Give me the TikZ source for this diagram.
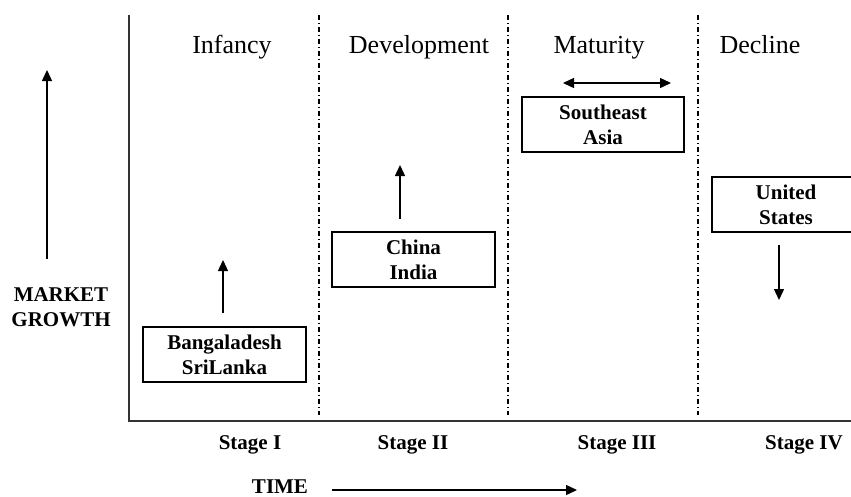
\documentclass[tikz,border=0pt]{standalone}
\usepackage{fontspec}
\setmainfont{Liberation Serif}
\usetikzlibrary{arrows.meta}
\tikzset{
  country/.style={draw, line width=1.4pt, minimum width=163pt, minimum height=55pt,
    align=center, font=\fontsize{21}{25}\selectfont\bfseries, inner sep=0pt},
  stagelbl/.style={font=\fontsize{21}{25}\selectfont\bfseries, inner sep=0pt, anchor=base},
  phase/.style={font=\fontsize{26}{30}\selectfont, inner sep=0pt, anchor=base},
  divider/.style={line width=1.4pt, dash pattern=on 5pt off 3pt on 1pt off 3pt},
  trend/.style={line width=1.4pt, -{Triangle[length=11pt,width=10pt]}},
  both/.style={line width=1.4pt, {Triangle[length=11pt,width=10pt]}-{Triangle[length=11pt,width=10pt]}},
}
\begin{document}
\begin{tikzpicture}[x=1pt,y=1pt]
		\useasboundingbox (0,0) rectangle (851,-496);
		% axes
		\coordinate (o) at (129,-421);
		\coordinate (ytop) at (129,-15);
		\coordinate (xend) at (851,-421);
		\draw [black!80, line width=2pt] (ytop) -- (o) -- (xend);
		% stage dividers
		\foreach \x/\n in {319/a,508/b,698/c} {
			\coordinate (top\n) at (\x,-15);
			\coordinate (bot\n) at (\x,-415);
			\draw [divider] (top\n) -- (bot\n);
		}
		% phases
		\node [phase] (infancy) at (232,-53) {Infancy};
		\node [phase] (develop) at (419,-53) {Development};
		\node [phase] (maturity) at (599,-53) {Maturity};
		\node [phase] (decline) at (760,-53) {Decline};
		% countries
		\node [country] (bs) at (224.5,-354.5) {Bangaladesh\\SriLanka};
		\node [country] (ci) at (413.5,-259.5) {China\\India};
		\node [country, minimum width=162pt] (sa) at (603,-124.5) {Southeast\\Asia};
		\node [country, minimum width=148pt] (us) at (786,-204.5) {United\\States};
		% growth arrows
		\coordinate (bs1) at (223,-313);
		\coordinate (bs2) at (223,-260);
		\draw [trend] (bs1) -- (bs2);
		\coordinate (ci1) at (400,-219);
		\coordinate (ci2) at (400,-165);
		\draw [trend] (ci1) -- (ci2);
		\coordinate (sa1) at (563,-83);
		\coordinate (sa2) at (671,-83);
		\draw [both] (sa1) -- (sa2);
		\coordinate (us1) at (779,-245);
		\coordinate (us2) at (779,-300);
		\draw [trend] (us1) -- (us2);
		% stages
		\node [stagelbl] (s1) at (250,-449) {Stage I};
		\node [stagelbl] (s2) at (413,-449) {Stage II};
		\node [stagelbl] (s3) at (617,-449) {Stage III};
		\node [stagelbl] (s4) at (804,-449) {Stage IV};
		% axis titles
		\node [stagelbl, anchor=center, align=center] (growth) at (61,-307) {MARKET\\GROWTH};
		\coordinate (g1) at (47,-259);
		\coordinate (g2) at (47,-70);
		\draw [trend] (g1) -- (g2);
		\node [stagelbl] (time) at (280,-493) {TIME};
		\coordinate (t1) at (332,-490);
		\coordinate (t2) at (577,-490);
		\draw [trend] (t1) -- (t2);
	\end{tikzpicture}
\end{document}
